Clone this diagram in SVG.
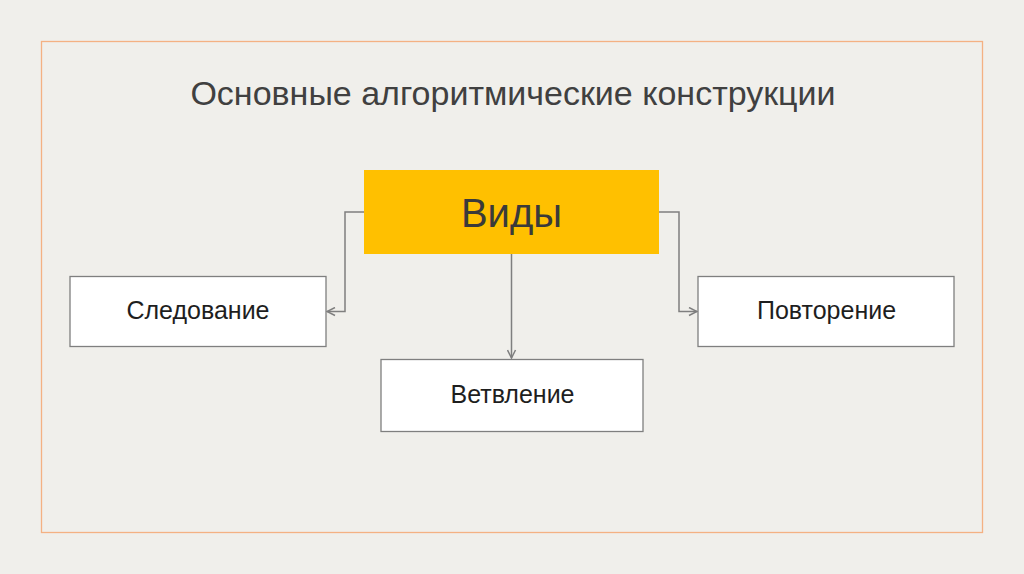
<svg xmlns="http://www.w3.org/2000/svg" width="1024" height="574" viewBox="0 0 1024 574">
<defs>
<style>
.box{fill:#ffffff;stroke:#7f7f7f;stroke-width:1.3}
.lbl{font-family:"Liberation Sans",Arial,sans-serif;font-size:25px;fill:#1e1e1e;text-anchor:middle}
.con{fill:none;stroke:#7f7f7f;stroke-width:1.5}
</style>
<marker id="arr" viewBox="0 0 10 10" refX="9" refY="5" markerWidth="10" markerHeight="10" markerUnits="userSpaceOnUse" orient="auto">
<path d="M1,1 L9,5 L1,9" fill="none" stroke="#7f7f7f" stroke-width="1.5"/>
</marker>
</defs>
<rect x="0" y="0" width="1024" height="574" fill="#f0efeb"/>
<rect x="41.5" y="41.5" width="941" height="491" fill="none" stroke="#f4b183" stroke-width="1.3"/>
<text x="513" y="105" font-family="'Liberation Sans',Arial,sans-serif" font-size="34" fill="#404040" text-anchor="middle">Основные алгоритмические конструкции</text>
<g id="connectors">
<path class="con" d="M364,212 H345 V311.5 H327" marker-end="url(#arr)"/>
<path class="con" d="M659,212 H679 V311.5 H697" marker-end="url(#arr)"/>
<path class="con" d="M511.5,254 V358" marker-end="url(#arr)"/>
</g>
<g id="vidy">
<rect x="364" y="170" width="295" height="84" fill="#ffc000"/>
<text x="511.5" y="227" font-family="'Liberation Sans',Arial,sans-serif" font-size="40" fill="#3a3a3a" text-anchor="middle">Виды</text>
</g>
<g id="sled">
<rect class="box" x="70" y="276.5" width="256" height="70"/>
<text class="lbl" x="198" y="319">Следование</text>
</g>
<g id="vetv">
<rect class="box" x="381" y="359.5" width="262" height="72"/>
<text class="lbl" x="512.5" y="403">Ветвление</text>
</g>
<g id="povt">
<rect class="box" x="698" y="276.5" width="256" height="70"/>
<text class="lbl" x="826.5" y="319">Повторение</text>
</g>
</svg>
